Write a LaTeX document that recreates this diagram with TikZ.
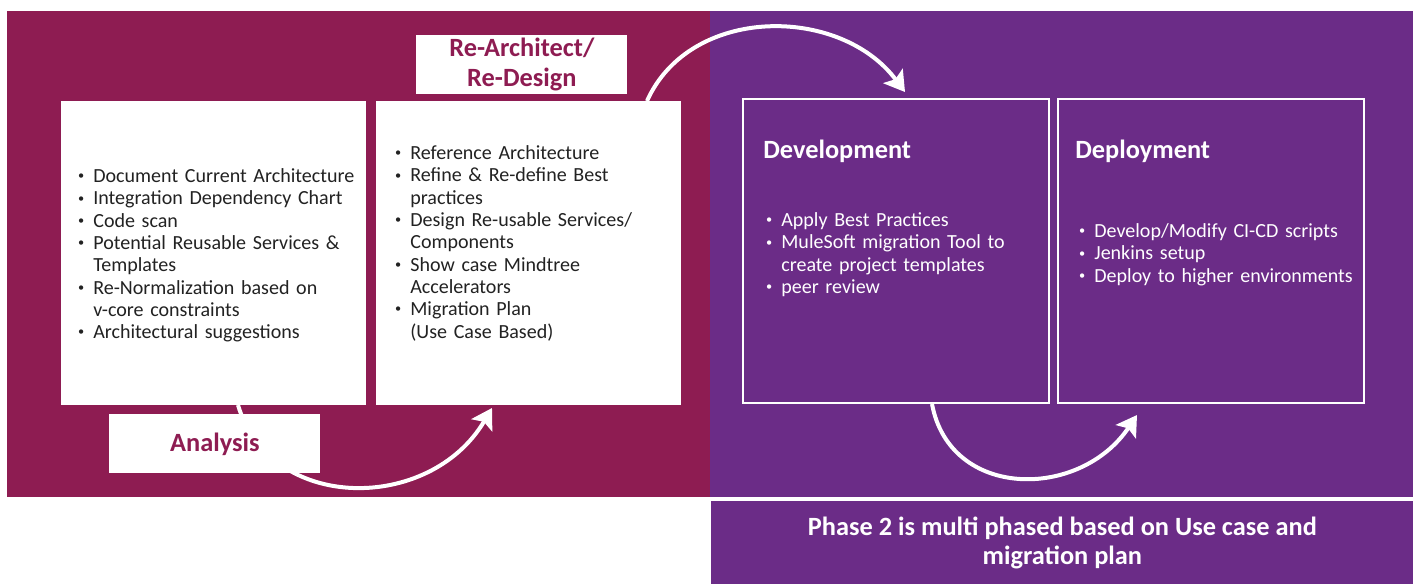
\documentclass[tikz,border=0pt]{standalone}
\usepackage{fontspec}
\setmainfont{Carlito}
\usepackage{enumitem}
\usetikzlibrary{positioning,arrows.meta}

\definecolor{phaseone}{HTML}{8E1C52}
\definecolor{phasetwo}{HTML}{6B2C87}
\definecolor{bodytext}{HTML}{222222}

\newlength{\pxu}
\setlength{\pxu}{0.02cm}
\setlist[itemize]{nosep,leftmargin=15\pxu,labelsep=9\pxu,label={\raisebox{0.3ex}{\scriptsize\textbullet}}}

\begin{document}
\begin{tikzpicture}[
    x=0.02cm, y=-0.02cm,
    whitebox/.style={rectangle, fill=white, draw=none, inner sep=0pt, minimum width=305\pxu, minimum height=304\pxu, anchor=north west},
    outlinebox/.style={rectangle, draw=white, line width=2\pxu, inner sep=0pt, minimum width=306\pxu, minimum height=304\pxu, anchor=north west},
    tag/.style={rectangle, fill=white, inner sep=0pt, minimum width=211\pxu, minimum height=59\pxu, anchor=north west, align=center, text=phaseone, font=\fontsize{15}{17}\selectfont\bfseries},
    list/.style={anchor=north west, inner sep=0pt, text width=300\pxu, text=#1, font=\fontsize{11.4}{12.7}\selectfont},
    title/.style={anchor=west, inner sep=0pt, text=white, font=\fontsize{15}{18}\selectfont\bfseries},
    flow/.style={white, line width=0.08cm, -{Stealth[length=0.4cm, width=0.48cm, inset=0.08cm]}}
]
\useasboundingbox (0,0) rectangle (1416,583);

% Panels
\fill[phaseone] (7,11) rectangle (710,497);
\fill[phasetwo] (710,11) rectangle (1413,497);
\node[rectangle, fill=phasetwo, inner sep=0pt, minimum width=702\pxu, minimum height=83\pxu, anchor=north west, align=center, text=white, font=\fontsize{15}{16.5}\selectfont\bfseries] (note) at (711,501) {Phase 2 is multi phased based on Use case and\\migration plan};

% Analysis arrow (behind the boxes)
\coordinate (astart) at (238,405);
\coordinate (aend) at (492,408);
\draw[flow] (astart) .. controls (270,513) and (430,513) .. (aend);

% Boxes
\node[whitebox] (analysis) at (61,101) {};
\node[whitebox] (redesign) at (376,101) {};
\node[outlinebox] (dev) at (742,98) {};
\node[outlinebox] (deploy) at (1057,98) {};

% Labels
\node[tag] (analysistag) at (109,414) {Analysis};
\node[tag] (redesigntag) at (416,35) {Re-Architect/\\Re-Design};
\node[title] (devtitle) at (763,151) {Development};
\node[title] (deploytitle) at (1075,151) {Deployment};

% Lists
\node[list=bodytext] (analysislist) at (78,160) {
\begin{itemize}
\item Document Current Architecture
\item Integration Dependency Chart
\item Code scan
\item Potential Reusable Services \&\\Templates
\item Re-Normalization based on\\v-core constraints
\item Architectural suggestions
\end{itemize}};
\node[list=bodytext] (redesignlist) at (395,137) {
\begin{itemize}
\item Reference Architecture
\item Refine \& Re-define Best\\practices
\item Design Re-usable Services/\\Components
\item Show case Mindtree\\Accelerators
\item Migration Plan\\(Use Case Based)
\end{itemize}};
\node[list=white] (devlist) at (766,204) {
\begin{itemize}
\item Apply Best Practices
\item MuleSoft migration Tool to\\create project templates
\item peer review
\end{itemize}};
\node[list=white] (deploylist) at (1079,215) {
\begin{itemize}
\item Develop/Modify CI-CD scripts
\item Jenkins setup
\item Deploy to higher environments
\end{itemize}};

% Arrows
\draw[flow] ([xshift=271\pxu]redesign.north west) .. controls (690,5) and (840,5) .. ([xshift=163\pxu,yshift=6\pxu]dev.north west);
\draw[flow] ([xshift=190\pxu]dev.south west) .. controls (950,500) and (1080,500) .. ([xshift=80\pxu,yshift=-11\pxu]deploy.south west);

\end{tikzpicture}
\end{document}
